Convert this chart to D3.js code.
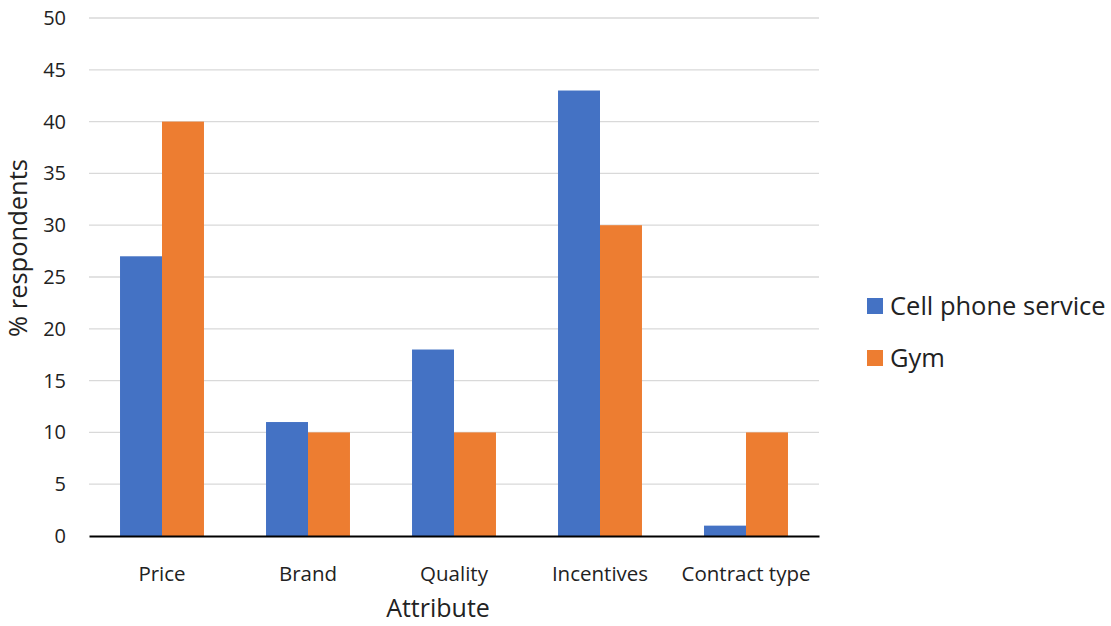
<!DOCTYPE html>
<html><head><meta charset="utf-8">
<script src="https://cdn.jsdelivr.net/npm/d3@7"></script>
<style>body{margin:0;background:#fff;} text{font-family:"Open Sans","Noto Sans",sans-serif;fill:#222;}</style>
</head><body>
<svg id="c" width="1111" height="626"></svg>
<script>
const categories = ["Price","Brand","Quality","Incentives","Contract type"];
const seriesNames = ["Cell phone service","Gym"];
const cellPhone = [27,11,18,43,1];
const gym = [40,10,10,30,10];
const yTicks = [0,5,10,15,20,25,30,35,40,45,50];
const colors = ["#4472C4","#ED7D31"];

const svg = d3.select("#c");
const L=89, R=819, T=18, B=536;
const x0 = d3.scaleBand().domain(categories).range([L,R]).paddingInner(0.425).paddingOuter(0.2125);
const x1 = d3.scaleBand().domain(seriesNames).range([0,x0.bandwidth()]);
const y = d3.scaleLinear().domain([0,50]).range([B,T]);

// grid
svg.append("g").selectAll("line").data(yTicks.filter(d=>d>0)).join("line")
  .attr("x1",L).attr("x2",R).attr("y1",d=>y(d)).attr("y2",d=>y(d))
  .attr("stroke","#d9d9d9").attr("stroke-width",1.3);

const yAxis = d3.axisLeft(y).tickValues(yTicks).tickSize(0).tickPadding(23);
const gy = svg.append("g").attr("transform",`translate(${L},0)`).call(yAxis);
gy.select(".domain").remove();
gy.selectAll("text").style("font-size","20px").attr("fill","#222");

const data = categories.map((c,i)=>({cat:c, vals:[cellPhone[i],gym[i]]}));
const g = svg.append("g").selectAll("g").data(data).join("g")
  .attr("transform",d=>`translate(${x0(d.cat)},0)`);
g.selectAll("rect").data(d=>d.vals.map((v,j)=>({s:seriesNames[j],v,j}))).join("rect")
  .attr("x",d=>x1(d.s)).attr("width",x1.bandwidth())
  .attr("y",d=>y(d.v)).attr("height",d=>B-y(d.v)).attr("fill",d=>colors[d.j]);

const xAxis = d3.axisBottom(x0).tickSize(0).tickPadding(30);
const gx = svg.append("g").attr("transform",`translate(0,${B})`).call(xAxis);
gx.select(".domain").attr("stroke","#000").attr("stroke-width",2.2);
gx.selectAll("text").style("font-size","20.5px").attr("fill","#222");

svg.append("text").attr("x",438).attr("y",617).attr("text-anchor","middle").style("font-size","25px").text("Attribute");
svg.append("text").attr("transform","translate(27,248) rotate(-90)").attr("text-anchor","middle").style("font-size","25.5px").text("% respondents");

const leg = svg.append("g").selectAll("g").data(seriesNames).join("g")
  .attr("transform",(d,i)=>`translate(867,${298+i*52})`);
leg.append("rect").attr("width",16).attr("height",16).attr("fill",(d,i)=>colors[i]);
leg.append("text").attr("x",23).attr("y",17).style("font-size","25.5px").text(d=>d);
</script>
</body></html>
